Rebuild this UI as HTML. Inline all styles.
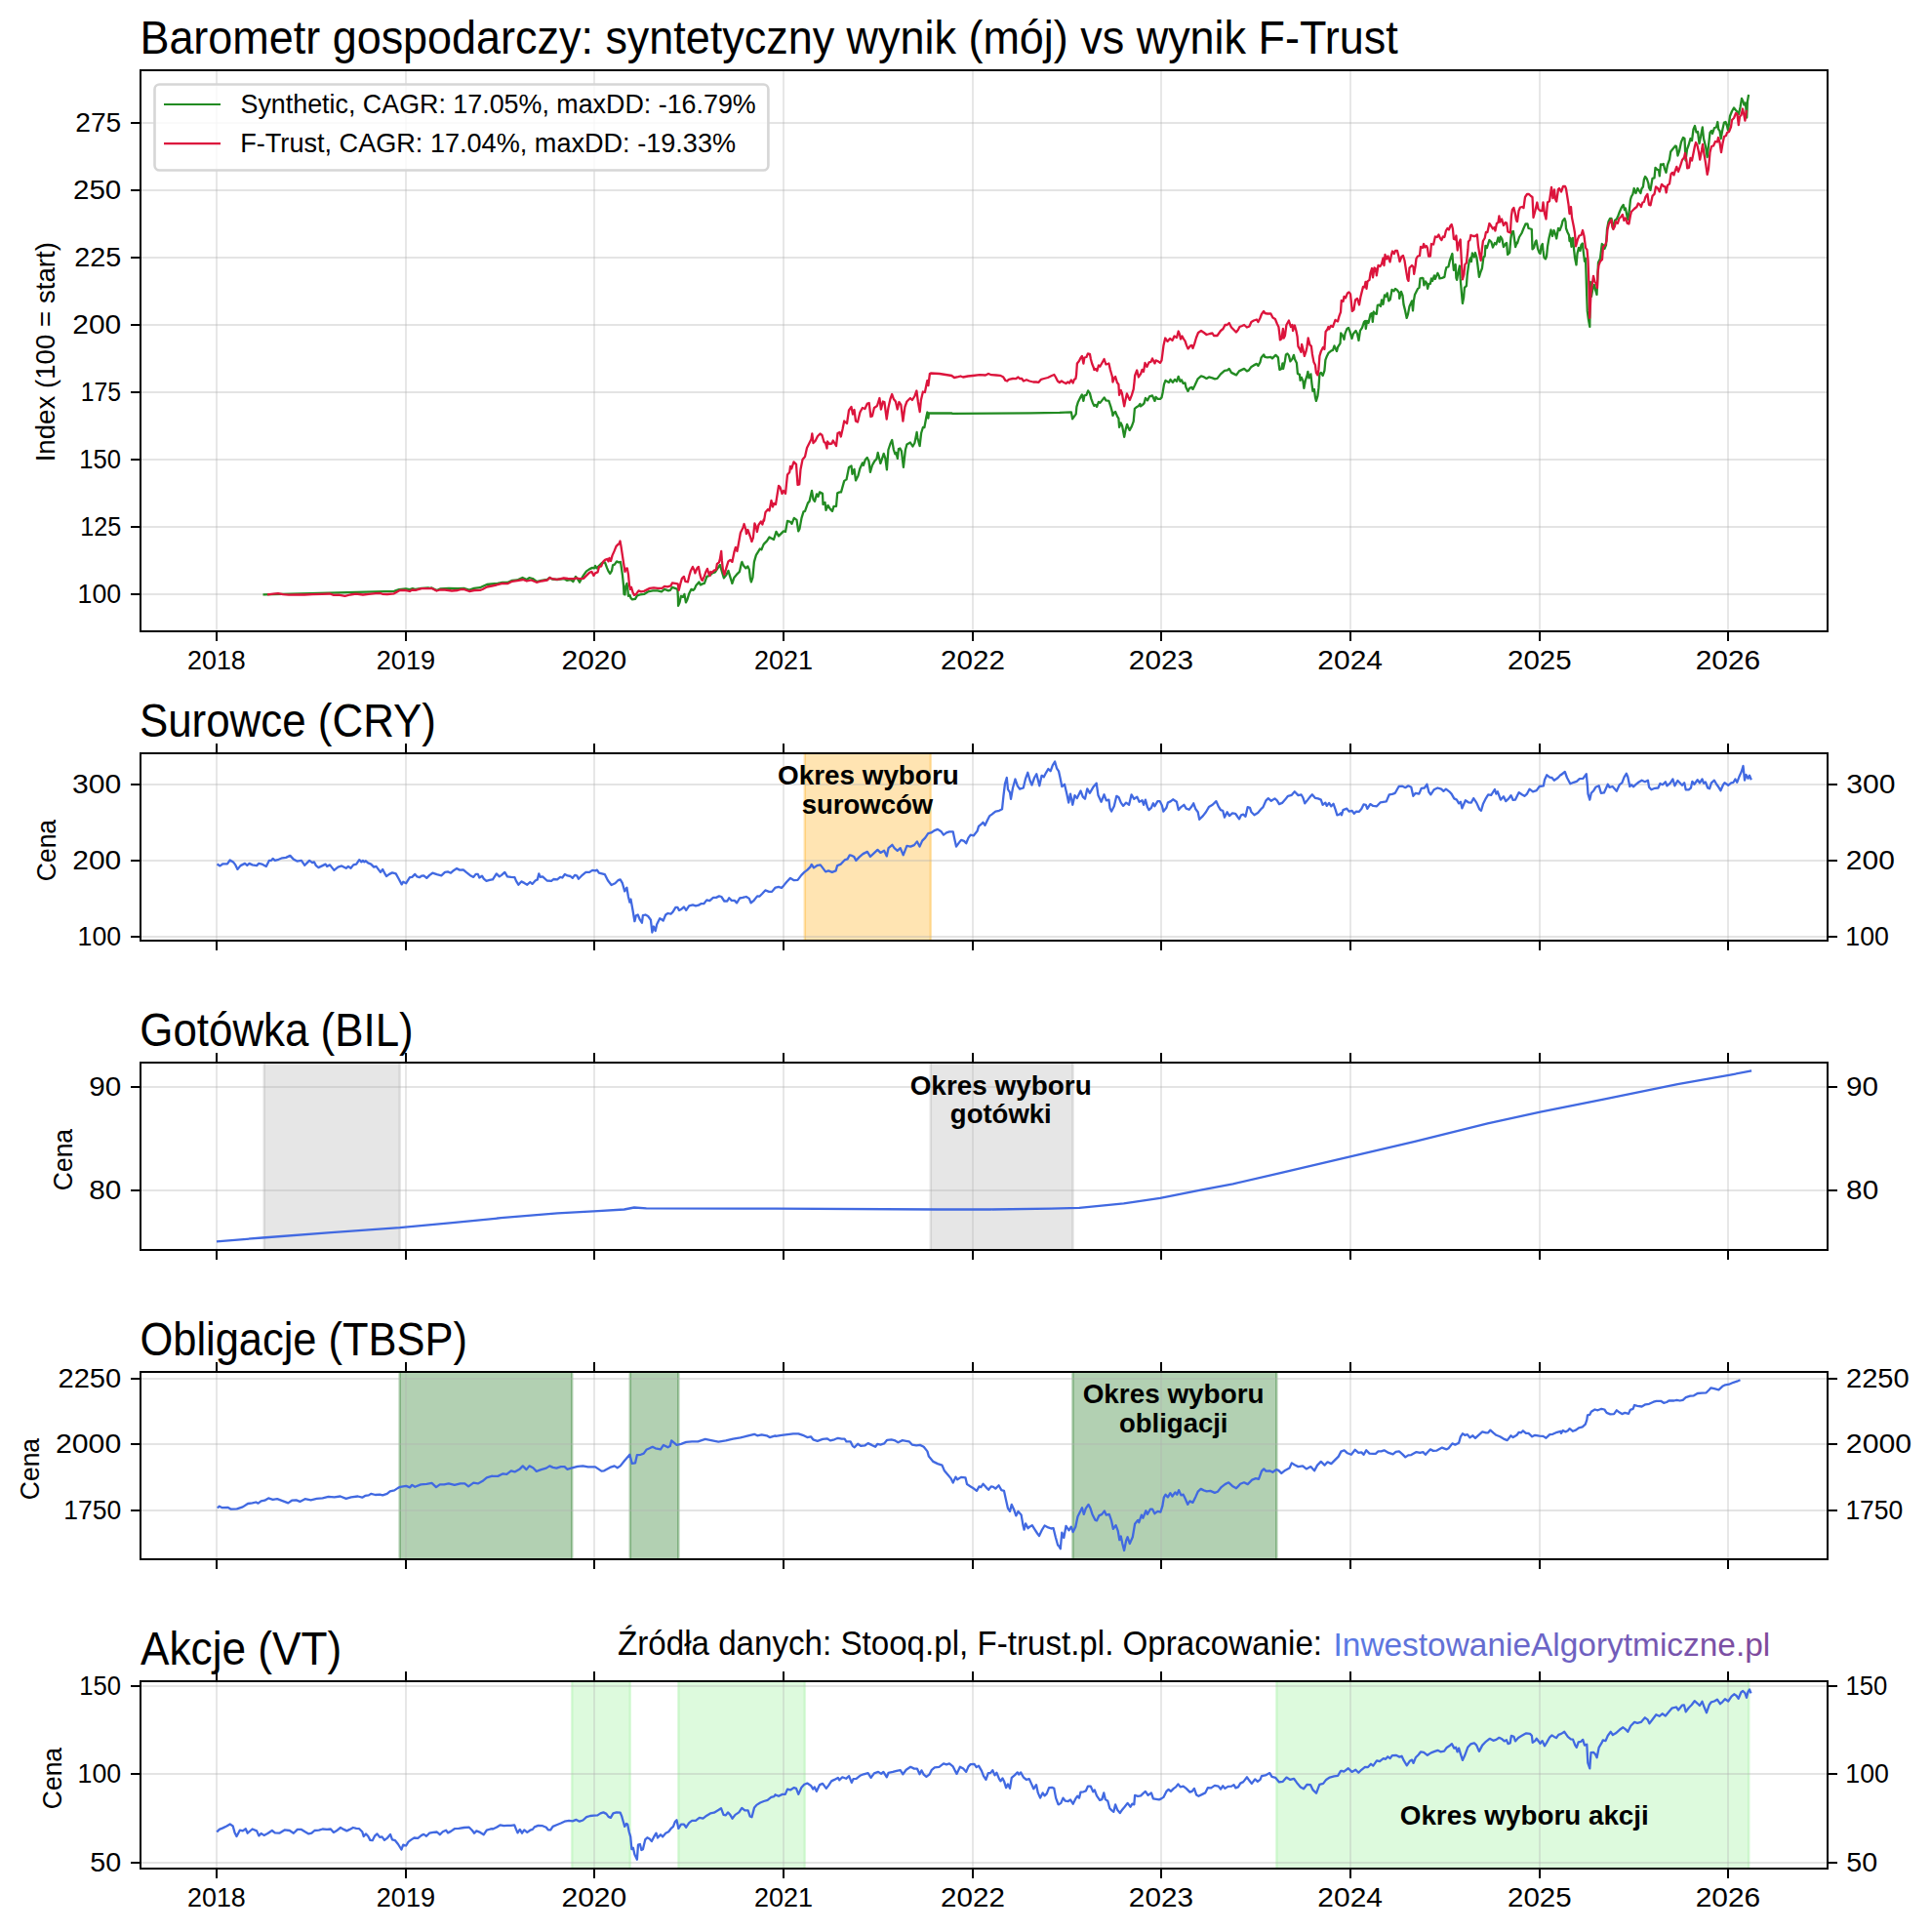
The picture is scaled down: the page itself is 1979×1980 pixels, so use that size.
<!DOCTYPE html>
<html lang="pl"><head><meta charset="utf-8"><title>Barometr gospodarczy</title>
<style>html,body{margin:0;padding:0;background:#fff}body{width:1979px;height:1980px;overflow:hidden}svg{display:block}text{font-family:"Liberation Sans", Arial, Helvetica, sans-serif}</style></head><body>
<svg width="1979" height="1980" viewBox="0 0 1979 1980">
<defs><linearGradient id="lg" x1="0" y1="0" x2="1" y2="0"><stop offset="0" stop-color="#587be6"/><stop offset="0.5" stop-color="#6c64c6"/><stop offset="1" stop-color="#80499a"/></linearGradient></defs>
<rect width="1979" height="1980" fill="#fff"/>
<clipPath id="c0"><rect x="144.0" y="72.0" width="1729.0" height="575.0"/></clipPath>
<path d="M222 72.0V647.0M416 72.0V647.0M609 72.0V647.0M803 72.0V647.0M997 72.0V647.0M1190 72.0V647.0M1384 72.0V647.0M1578 72.0V647.0M1771 72.0V647.0" stroke="#b0b0b0" stroke-opacity="0.3" stroke-width="2" fill="none"/>
<path d="M144.0 609H1873.0M144.0 540H1873.0M144.0 471H1873.0M144.0 402H1873.0M144.0 333H1873.0M144.0 264H1873.0M144.0 195H1873.0M144.0 126H1873.0" stroke="#b0b0b0" stroke-opacity="0.34" stroke-width="2" fill="none"/>
<polyline clip-path="url(#c0)" points="269.5,609.3 403.9,605.8 408.9,604.2 415.9,603.3 419.9,604.2 422.9,603.2 425.9,604.0 431.9,602.8 438.9,602.4 440.0,602.8 442.5,602.5 447.5,605.0 451.0,603.5 460.0,603.0 469.0,603.2 476.0,603.0 481.0,604.5 486.0,602.8 492.0,602.2 494.5,601.0 499.0,599.0 504.0,598.5 510.0,598.0 515.0,597.0 520.0,597.0 525.0,594.8 530.0,594.5 535.5,592.0 539.9,594.0 542.4,592.2 545.9,593.0 549.9,596.0 554.9,594.8 560.9,594.0 563.4,592.0 565.9,593.5 570.9,594.0 577.9,593.0 580.9,594.8 584.9,594.0 587.4,596.0 589.4,592.0 590.0,590.9 592.0,593.4 594.0,596.7 596.0,592.9 598.5,588.9 601.0,585.4 604.0,583.4 607.0,581.9 609.0,582.4 610.0,579.9 611.5,582.4 614.0,579.9 617.0,576.9 620.0,576.4 622.0,581.9 623.5,585.4 625.2,587.9 627.0,584.9 628.0,579.4 630.0,578.4 632.0,575.4 634.0,576.4 636.0,575.9 637.0,582.9 638.0,589.9 639.0,599.9 639.5,608.9 640.5,609.4 641.0,601.9 642.5,597.9 643.5,605.9 644.0,610.9 645.5,609.9 646.5,612.9 648.0,614.4 651.0,613.9 653.0,610.4 656.0,609.4 660.0,608.9 664.0,606.4 669.0,605.4 674.0,605.4 678.0,606.4 681.0,603.9 685.0,605.4 686.9,604.9 688.9,601.9 691.9,602.9 694.4,603.9 694.9,612.9 695.1,620.9 696.4,617.9 697.9,610.9 699.9,611.9 701.4,608.9 702.9,617.4 704.4,614.4 706.4,607.9 708.4,603.9 710.4,604.9 711.9,603.4 713.4,599.9 716.4,596.4 717.9,599.4 719.9,598.4 721.9,597.9 724.4,590.9 727.4,589.9 729.9,587.4 732.9,586.4 735.9,581.9 737.9,578.9 739.9,585.9 741.9,592.4 743.9,589.9 746.4,584.9 747.9,589.9 750.4,597.9 752.4,591.9 754.9,588.9 757.9,585.9 759.9,576.9 760.4,575.9 761.9,579.4 764.4,582.4 766.4,580.4 767.9,583.9 768.9,592.9 769.9,596.4 771.4,591.9 772.9,575.9 774.9,568.9 777.4,564.9 778.9,562.4 780.4,563.4 782.4,558.4 783.0,557.4 786.0,554.4 788.5,550.4 793.0,552.9 795.5,544.9 798.0,549.4 803.0,544.4 805.0,544.9 807.0,533.9 810.0,534.9 811.5,536.9 813.8,530.9 816.5,532.9 818.2,544.4 819.5,541.9 821.5,530.9 823.5,524.4 825.0,523.9 828.0,515.4 829.5,513.9 832.0,502.9 833.5,511.9 835.0,513.9 837.0,506.4 838.5,508.9 840.0,504.4 843.0,505.9 843.5,516.9 845.5,514.9 846.5,522.9 848.5,517.9 851.0,521.9 853.0,523.9 854.5,518.9 857.0,518.9 858.2,505.4 860.5,504.4 862.0,504.4 865.2,492.9 867.5,491.4 870.0,478.9 872.5,477.4 873.5,485.9 875.5,480.9 877.0,492.4 879.5,487.4 881.4,479.9 883.9,474.4 884.9,476.9 886.9,470.9 888.7,468.9 890.4,472.4 891.9,483.9 893.9,476.9 896.4,472.4 898.4,470.4 899.7,463.9 902.4,474.9 904.4,468.9 905.7,464.9 907.4,469.9 908.9,481.4 910.4,461.0 912.4,455.0 914.2,451.0 915.9,461.0 917.4,465.4 918.4,463.9 919.9,469.9 920.9,460.0 922.4,459.5 923.9,462.4 925.9,478.9 927.9,461.0 929.4,455.5 932.9,453.5 935.4,457.5 937.4,454.0 939.6,443.0 940.4,449.0 942.6,457.0 944.1,444.0 945.9,438.0 947.4,438.0 949.4,427.0 950.4,422.5 951.4,428.5 951.9,423.5 975.4,423.5 976.0,423.9 1016.0,423.7 1056.0,423.4 1085.9,422.9 1097.9,422.4 1099.1,429.4 1100.9,426.9 1102.7,424.4 1103.4,416.9 1104.9,411.9 1106.9,407.9 1108.9,404.4 1110.4,410.9 1111.4,405.4 1113.4,404.9 1115.1,400.4 1116.9,402.9 1118.4,408.9 1119.9,412.9 1121.4,415.9 1122.9,414.9 1124.1,416.9 1125.9,411.9 1127.4,412.9 1129.4,410.4 1131.7,407.4 1133.4,410.4 1136.4,410.9 1138.4,416.9 1139.9,422.4 1140.4,425.9 1141.9,422.9 1143.1,421.9 1144.9,426.4 1146.4,428.9 1147.1,437.9 1148.7,433.4 1150.1,436.4 1151.1,441.9 1152.2,447.9 1153.7,439.9 1155.1,434.9 1156.4,438.4 1157.7,440.9 1159.9,436.9 1161.7,431.9 1162.9,418.9 1165.2,416.9 1166.9,415.9 1168.4,413.9 1169.0,416.4 1171.0,414.9 1172.5,413.4 1174.0,407.9 1176.0,410.4 1178.0,406.4 1181.0,405.4 1183.5,410.9 1184.5,406.9 1186.5,408.9 1189.0,408.9 1190.5,407.4 1191.7,401.9 1193.0,393.9 1194.5,389.9 1198.0,391.9 1199.5,388.9 1202.0,391.9 1204.0,388.9 1206.0,390.9 1207.7,385.9 1209.5,390.9 1211.0,389.4 1212.5,392.9 1214.5,392.4 1215.5,396.9 1217.5,400.9 1219.0,397.9 1221.5,396.9 1222.5,398.9 1224.5,394.9 1227.5,388.4 1231.0,385.4 1234.0,386.4 1236.5,387.9 1239.0,386.4 1242.5,387.4 1245.0,388.4 1247.5,387.9 1251.0,383.4 1255.0,379.9 1258.0,379.4 1259.7,377.9 1262.0,381.9 1265.0,383.4 1267.1,384.4 1269.9,380.4 1272.9,378.9 1275.1,377.9 1277.9,380.4 1279.9,379.4 1282.4,375.9 1284.9,374.4 1287.9,372.9 1289.4,374.9 1291.4,371.4 1292.6,366.4 1295.1,363.4 1296.4,365.9 1298.9,366.4 1302.4,365.9 1303.9,367.4 1305.4,365.9 1307.4,363.9 1309.9,366.4 1310.7,373.9 1311.4,378.9 1313.4,377.9 1314.4,372.4 1315.1,377.9 1316.9,369.9 1317.9,363.4 1319.4,362.4 1320.9,364.4 1322.4,370.4 1324.4,367.9 1325.9,363.9 1326.9,367.9 1328.9,371.9 1329.9,382.9 1331.9,383.9 1332.6,389.9 1333.9,386.9 1335.4,390.4 1336.4,397.9 1337.9,389.9 1339.4,385.4 1340.4,380.9 1341.4,387.4 1343.4,383.4 1344.4,392.9 1345.4,400.9 1346.9,398.9 1347.9,406.9 1348.9,410.9 1350.4,405.9 1351.4,397.9 1352.4,382.9 1353.9,381.9 1355.7,384.9 1357.4,379.9 1358.4,368.9 1359.9,364.9 1361.4,361.9 1362.0,361.4 1364.5,359.4 1366.0,358.9 1367.5,354.4 1370.0,359.9 1371.0,355.9 1373.5,351.9 1374.2,341.4 1376.0,343.9 1377.5,347.9 1378.5,341.9 1380.5,336.9 1382.0,335.9 1383.5,339.9 1385.5,346.9 1387.0,341.9 1389.5,338.9 1391.0,341.9 1392.5,348.9 1394.0,338.9 1396.0,335.9 1398.0,329.9 1399.2,328.9 1399.8,336.9 1401.0,328.9 1402.5,330.9 1404.5,321.9 1406.0,320.9 1406.8,329.9 1407.8,319.4 1409.5,321.4 1410.8,321.9 1411.8,312.9 1413.5,312.4 1415.0,313.9 1416.0,307.4 1417.5,311.9 1419.0,302.4 1420.5,303.9 1421.7,300.4 1423.2,308.4 1424.8,306.9 1426.5,296.9 1428.5,298.4 1430.0,295.9 1432.0,297.4 1434.0,300.4 1434.2,305.9 1436.0,298.9 1437.5,302.9 1438.5,311.9 1440.0,317.9 1441.7,325.9 1443.0,321.9 1444.5,313.9 1447.0,308.4 1448.0,318.4 1448.8,308.9 1450.0,301.9 1451.5,298.9 1453.0,295.9 1454.5,294.9 1455.5,285.4 1457.5,284.9 1458.5,285.4 1459.4,292.4 1460.9,288.4 1462.1,289.9 1463.1,295.9 1464.4,290.9 1465.9,290.9 1466.9,285.4 1468.1,287.9 1469.9,282.4 1470.9,285.9 1473.4,279.9 1474.9,282.9 1475.4,285.4 1477.9,284.9 1480.4,283.9 1481.4,277.9 1482.4,274.0 1484.4,273.5 1485.9,267.0 1488.4,260.0 1488.9,267.0 1489.9,276.9 1491.7,271.0 1492.4,284.9 1493.1,286.9 1494.4,279.4 1495.9,272.5 1496.7,285.9 1497.9,299.9 1498.9,310.9 1500.1,304.9 1500.9,294.9 1502.9,292.9 1503.7,281.9 1504.9,273.0 1505.9,267.0 1507.4,264.0 1507.9,268.0 1508.9,259.5 1510.9,263.5 1511.9,259.0 1513.4,264.0 1514.4,271.5 1515.9,283.9 1517.4,278.9 1518.9,275.0 1520.4,263.5 1521.7,262.5 1522.4,252.0 1523.9,254.0 1526.4,246.0 1528.4,248.0 1529.9,253.5 1531.9,249.0 1533.4,250.5 1535.4,243.5 1536.7,248.0 1537.9,242.5 1539.4,245.0 1540.9,253.0 1542.9,250.0 1544.1,249.0 1545.1,261.0 1547.1,259.0 1548.4,244.0 1549.4,237.5 1550.9,237.0 1551.9,244.0 1553.1,253.0 1554.7,248.5 1555.0,249.5 1557.0,243.0 1559.5,239.0 1561.5,234.0 1563.5,229.5 1565.5,229.5 1566.5,234.0 1568.5,234.5 1569.8,235.0 1570.5,255.4 1572.0,253.9 1573.5,248.0 1574.5,246.5 1576.0,254.9 1577.5,258.9 1578.5,259.9 1579.5,252.4 1580.8,250.0 1581.5,256.9 1582.5,263.9 1584.0,265.4 1585.0,262.9 1586.0,252.9 1587.5,244.0 1589.5,235.5 1591.0,242.0 1592.5,236.0 1594.0,240.0 1595.2,244.5 1597.0,234.0 1598.5,236.0 1600.5,231.0 1601.5,226.5 1603.5,224.0 1604.5,227.0 1605.0,234.0 1606.5,238.0 1608.0,241.0 1608.5,247.0 1609.5,244.0 1610.5,252.9 1612.0,244.0 1613.0,254.9 1614.0,263.9 1615.5,271.4 1616.5,259.9 1618.0,253.9 1619.5,256.9 1620.5,251.0 1621.8,249.5 1623.0,259.9 1624.0,267.9 1625.0,264.9 1625.5,279.9 1626.2,302.9 1626.8,318.9 1628.0,327.9 1629.3,334.9 1629.8,288.9 1631.0,303.9 1632.5,294.9 1633.8,291.9 1635.0,296.9 1636.5,301.9 1637.5,279.9 1638.0,268.9 1640.0,264.9 1641.2,254.9 1641.8,250.0 1643.5,251.5 1644.5,254.9 1646.0,251.0 1647.0,235.0 1648.5,227.0 1650.0,224.0 1651.5,224.0 1652.9,234.0 1653.9,231.0 1654.9,226.0 1656.9,224.5 1658.4,221.0 1659.9,217.0 1661.9,212.5 1663.7,210.0 1664.9,215.0 1665.9,213.5 1667.4,221.0 1668.4,225.0 1669.9,215.0 1670.9,205.0 1671.9,201.5 1673.4,199.0 1674.7,193.0 1676.4,198.0 1678.4,193.0 1679.9,195.5 1681.4,198.0 1682.4,193.5 1683.9,191.5 1684.9,184.0 1686.1,181.0 1687.9,183.5 1689.4,188.0 1690.0,192.4 1691.5,194.9 1693.5,182.9 1695.5,182.4 1696.5,171.9 1698.5,173.9 1700.0,174.4 1700.8,180.4 1702.0,168.4 1703.5,168.9 1704.8,167.9 1706.0,172.9 1707.5,176.9 1709.0,168.9 1711.0,163.5 1712.2,155.5 1714.5,152.5 1717.0,149.5 1718.0,150.0 1719.5,159.5 1721.0,155.0 1723.0,145.5 1725.0,141.0 1726.5,142.0 1727.5,164.5 1729.0,153.0 1730.5,149.0 1732.5,142.0 1734.0,144.0 1735.5,132.5 1737.0,129.0 1738.5,135.5 1740.0,135.0 1741.5,147.0 1743.0,140.0 1744.8,130.5 1746.0,142.0 1748.0,150.0 1749.7,161.0 1751.0,149.0 1752.5,136.0 1754.0,134.0 1755.0,137.0 1757.0,131.0 1759.0,130.5 1760.3,125.0 1761.2,132.5 1762.5,134.0 1763.7,142.0 1765.5,132.0 1767.0,125.5 1768.5,125.0 1770.0,129.0 1771.0,133.5 1773.0,119.0 1775.0,114.0 1777.0,110.5 1779.0,113.0 1781.0,115.0 1782.0,117.0 1783.5,110.0 1785.0,101.0 1786.5,104.0 1787.4,107.5 1788.9,105.5 1790.2,120.5 1790.9,104.0 1792.1,97.0" fill="none" stroke="#228b22" stroke-width="2.3" stroke-linejoin="round" stroke-linecap="butt"/>
<polyline clip-path="url(#c0)" points="274.0,609.3 280.0,608.7 285.0,608.2 290.0,609.2 296.0,609.7 303.0,609.3 312.0,609.5 320.0,609.2 330.0,608.8 338.0,608.5 342.0,609.8 347.0,609.7 353.5,610.8 358.9,609.5 364.9,608.7 371.9,609.5 377.9,608.8 384.9,608.2 389.9,608.0 391.9,608.8 396.9,609.0 403.9,608.3 407.9,606.0 409.9,605.0 414.9,604.8 419.9,606.0 422.4,604.5 425.9,604.8 431.9,603.2 437.9,603.2 440.0,603.2 442.5,603.0 447.5,605.5 451.0,604.5 456.0,604.5 463.0,605.5 469.0,605.0 473.0,604.0 476.0,604.2 481.0,606.0 486.0,605.0 492.0,604.8 494.5,604.0 499.0,601.5 504.0,600.5 510.0,599.2 515.0,597.8 520.0,598.2 525.0,595.8 530.0,595.2 536.0,594.0 539.9,595.5 544.4,594.5 549.9,596.8 554.9,595.5 560.9,594.5 563.4,592.0 565.9,593.2 570.9,593.8 577.9,592.5 581.9,593.0 586.9,593.2 589.4,593.0 590.0,592.4 594.0,593.1 598.0,592.9 601.0,589.9 604.0,586.9 606.5,585.9 608.5,589.9 610.0,587.4 612.5,586.4 614.0,580.9 616.2,580.4 618.0,575.9 620.0,573.9 622.5,572.9 623.5,575.4 624.5,571.9 626.0,574.9 627.5,569.4 629.5,564.9 631.5,559.9 633.5,557.9 634.5,557.4 635.5,554.5 636.5,559.9 638.0,569.9 639.5,579.9 640.5,585.9 641.5,582.9 642.8,582.4 644.0,588.9 645.0,599.9 646.0,603.9 647.0,601.9 648.5,606.9 650.0,609.9 652.0,608.9 654.5,605.4 657.0,606.4 660.0,605.9 664.0,603.9 666.0,602.9 670.0,602.4 674.0,602.9 678.5,602.9 681.0,600.9 684.0,601.4 687.4,600.4 688.9,597.4 691.9,597.9 694.7,598.4 695.7,604.9 697.4,597.9 698.9,592.9 700.9,590.9 702.4,595.9 704.9,596.4 706.4,589.9 707.9,584.9 709.9,580.9 711.4,583.9 712.4,587.4 714.4,582.4 715.9,580.9 717.4,588.9 718.9,593.9 719.9,594.9 721.9,590.4 723.4,585.9 724.9,582.9 726.4,587.9 727.4,589.9 728.4,585.9 729.9,586.9 731.4,584.9 733.9,583.9 734.9,577.9 736.9,576.4 737.9,572.9 739.2,564.9 739.9,574.9 740.9,583.9 742.4,588.9 744.4,581.9 746.4,575.4 748.4,573.9 750.4,575.9 752.4,565.9 753.9,560.9 755.4,564.9 756.4,559.9 758.9,546.0 761.4,541.0 762.6,537.0 764.4,543.0 764.9,547.0 766.4,543.0 768.9,550.0 770.4,555.0 771.9,551.0 773.4,536.5 774.9,540.0 775.9,545.0 777.4,538.0 779.9,534.5 781.4,537.5 782.7,532.5 783.0,533.9 784.5,524.9 787.0,521.9 788.5,523.4 790.5,512.9 792.0,519.4 793.0,515.9 795.0,516.9 798.0,497.9 799.5,499.4 801.5,505.9 803.0,502.9 805.0,505.9 807.0,486.4 809.2,483.9 810.0,477.9 811.2,480.4 813.5,473.4 816.0,475.9 817.5,496.9 819.2,496.4 820.5,480.9 822.5,470.9 825.0,467.9 827.0,459.0 829.5,454.0 831.5,450.0 832.3,444.5 833.5,454.0 835.5,452.0 838.0,447.0 840.5,444.5 842.5,446.0 844.5,453.0 846.0,454.0 847.5,459.5 848.0,452.5 850.0,455.0 852.5,454.5 853.8,451.5 857.0,457.0 858.5,444.0 860.5,443.0 861.8,447.5 863.5,440.0 865.2,431.5 868.0,434.0 870.0,420.5 872.5,417.0 874.0,424.5 875.5,420.0 877.0,431.5 879.0,432.5 881.4,422.5 883.9,418.0 886.4,419.0 888.9,413.5 890.7,413.0 892.4,427.0 893.9,426.5 895.9,418.0 898.9,416.0 901.4,408.0 902.9,419.5 904.9,411.5 906.4,412.0 908.7,429.5 910.4,418.0 912.4,409.0 914.2,404.0 915.9,409.0 917.9,411.5 919.7,419.5 921.4,412.0 923.4,415.0 925.4,431.5 927.4,417.0 929.4,411.5 932.9,408.0 934.9,410.0 937.4,406.0 939.4,400.5 940.9,412.0 942.7,422.0 943.9,410.0 945.9,401.5 947.9,402.0 949.7,393.0 950.4,390.0 951.4,395.0 952.9,383.0 953.9,382.5 962.9,383.0 975.4,385.0 976.0,385.5 978.0,387.0 982.0,386.2 984.5,385.5 987.0,386.5 992.0,385.5 997.0,385.0 1004.0,384.2 1010.0,384.5 1013.0,383.0 1016.0,384.2 1021.0,384.5 1025.0,384.8 1028.0,386.2 1030.5,390.0 1032.0,390.5 1034.0,388.8 1038.0,388.0 1041.0,388.2 1043.5,386.5 1045.0,388.0 1047.0,387.8 1049.0,390.5 1052.0,389.2 1055.0,390.5 1059.0,391.5 1062.0,391.5 1064.5,391.8 1067.0,388.8 1070.0,388.0 1073.9,387.0 1077.9,385.0 1080.4,384.0 1081.9,386.5 1083.9,390.5 1085.9,392.0 1087.9,390.5 1089.9,391.8 1092.4,393.0 1094.4,391.5 1095.9,392.5 1097.9,389.5 1099.7,392.5 1100.9,389.0 1102.4,388.0 1103.1,384.0 1103.9,372.5 1105.9,370.0 1107.4,367.0 1108.9,365.0 1110.4,372.5 1111.4,366.5 1113.4,366.0 1114.9,362.5 1116.9,362.8 1117.9,368.0 1119.1,372.5 1120.9,377.0 1121.4,379.0 1122.9,378.0 1124.4,380.0 1125.9,374.5 1127.4,375.5 1129.4,372.0 1131.6,368.0 1133.4,373.5 1136.4,372.5 1137.9,379.0 1139.9,386.0 1140.4,391.5 1141.9,387.5 1143.1,386.0 1144.9,392.0 1146.4,394.0 1147.1,404.9 1148.7,399.9 1149.9,402.9 1151.1,410.4 1152.2,416.4 1153.4,409.9 1154.9,403.4 1156.4,406.9 1157.9,409.9 1159.9,404.9 1161.7,398.9 1162.7,390.0 1163.1,385.0 1165.2,379.5 1166.9,386.5 1168.4,384.0 1169.0,383.4 1170.5,378.9 1172.0,380.9 1173.5,371.9 1175.5,375.9 1177.5,371.4 1179.5,370.9 1181.0,367.4 1183.5,372.4 1184.5,369.4 1187.0,370.4 1189.0,371.9 1190.5,369.4 1191.5,361.9 1192.5,353.9 1194.2,346.5 1196.5,349.9 1199.0,346.9 1201.5,348.9 1203.5,344.5 1206.0,346.0 1207.7,339.5 1209.0,343.0 1210.0,347.4 1211.5,344.5 1213.0,347.4 1214.5,349.4 1216.0,353.9 1217.5,357.4 1220.0,354.4 1221.5,353.9 1222.5,356.9 1224.0,352.9 1226.0,346.0 1228.0,341.0 1231.0,339.0 1234.0,341.0 1236.5,343.0 1240.0,342.0 1242.5,341.5 1244.0,344.0 1247.5,344.0 1251.0,339.0 1253.5,337.0 1255.5,333.0 1257.5,333.0 1259.7,331.0 1262.0,335.5 1265.0,338.5 1266.9,340.5 1268.9,338.0 1270.4,335.0 1272.9,334.0 1275.1,333.0 1277.9,335.5 1280.4,334.5 1282.4,330.0 1284.9,328.5 1287.9,327.5 1289.4,330.0 1291.4,326.0 1292.9,322.0 1295.1,319.0 1296.4,321.0 1298.9,321.5 1302.4,321.5 1304.4,325.5 1306.9,327.0 1308.9,332.0 1310.4,335.0 1311.4,343.0 1311.9,348.4 1313.4,347.4 1314.9,337.0 1315.7,346.5 1316.9,344.0 1318.4,333.0 1320.9,328.5 1322.9,335.0 1324.4,333.0 1325.1,339.0 1326.9,333.5 1328.4,339.0 1329.6,345.0 1330.4,354.9 1332.1,357.9 1333.4,360.9 1334.1,352.9 1335.4,357.9 1336.9,364.9 1338.4,360.4 1339.4,355.9 1340.7,346.5 1342.4,353.4 1343.9,354.9 1344.9,362.9 1346.4,370.9 1347.9,373.9 1348.9,381.9 1350.4,384.4 1351.4,378.9 1352.4,364.9 1353.9,359.9 1355.9,355.9 1357.4,357.9 1358.6,340.0 1360.4,337.5 1361.4,335.0 1362.0,337.4 1364.0,333.9 1366.0,334.9 1368.5,327.9 1371.0,329.4 1372.5,323.9 1374.0,319.9 1374.8,307.9 1376.5,308.9 1377.5,303.9 1379.0,305.4 1381.0,300.4 1382.5,299.4 1384.0,301.4 1385.8,318.9 1387.5,317.4 1389.0,307.4 1391.0,305.9 1393.0,312.4 1394.5,303.9 1397.0,293.9 1398.5,294.4 1399.5,288.9 1400.5,295.9 1401.5,288.4 1403.5,286.9 1404.5,279.9 1406.0,275.0 1407.0,284.4 1408.5,274.5 1410.0,275.5 1410.8,282.4 1412.5,272.0 1414.5,273.0 1416.0,270.5 1417.5,264.5 1418.5,272.0 1419.5,261.0 1421.0,265.5 1422.5,262.5 1424.5,268.5 1426.0,261.0 1427.0,257.5 1428.8,260.0 1430.0,257.0 1432.0,257.0 1433.5,263.0 1434.5,268.0 1436.5,263.0 1438.0,262.0 1439.5,267.0 1441.0,276.9 1442.5,285.9 1443.5,287.9 1444.5,274.5 1447.0,272.0 1448.5,273.5 1449.2,280.9 1450.5,273.0 1451.5,265.0 1453.0,262.5 1455.0,262.0 1456.0,253.0 1458.0,254.0 1459.1,250.0 1460.4,253.5 1461.9,252.0 1462.9,254.0 1464.1,262.5 1465.9,262.5 1466.9,250.0 1469.1,250.5 1470.9,242.5 1472.9,243.0 1474.4,240.5 1475.9,244.0 1477.4,246.0 1478.9,242.5 1480.4,243.0 1481.9,236.5 1483.4,234.0 1484.9,235.5 1486.4,231.5 1487.7,230.0 1488.9,234.5 1489.9,245.0 1491.4,245.5 1492.4,241.5 1493.7,256.5 1495.4,248.5 1496.7,245.5 1497.7,265.0 1498.9,286.4 1500.4,280.9 1501.4,271.0 1502.9,269.5 1504.4,256.0 1504.9,247.5 1506.4,246.0 1507.4,241.0 1509.9,242.0 1511.9,242.0 1513.9,240.5 1514.9,251.5 1516.4,261.0 1517.7,267.0 1518.9,255.0 1519.9,247.0 1521.7,244.0 1522.9,238.0 1524.4,238.0 1526.4,229.0 1528.4,232.0 1529.9,234.5 1531.4,233.0 1532.4,236.5 1533.9,229.0 1535.4,228.0 1536.4,221.5 1537.4,227.5 1539.1,224.5 1540.9,231.0 1542.9,228.0 1544.1,228.5 1545.4,237.5 1547.9,238.5 1548.9,221.5 1549.9,215.0 1551.4,213.0 1552.9,219.0 1553.9,225.0 1554.7,227.0 1555.0,227.0 1556.5,216.0 1558.0,212.5 1560.0,212.0 1561.5,213.0 1563.0,202.0 1565.0,199.0 1567.0,199.0 1569.0,201.0 1570.5,202.0 1571.5,223.0 1573.5,215.5 1575.3,207.5 1576.5,214.0 1578.5,216.0 1580.5,216.0 1581.5,207.5 1583.0,219.0 1584.5,224.5 1586.0,207.5 1588.0,206.0 1590.0,192.0 1591.5,203.0 1593.0,194.5 1594.0,204.0 1595.2,206.5 1597.0,194.0 1598.0,193.0 1600.0,196.5 1602.0,191.0 1604.0,191.0 1605.0,193.5 1606.5,203.0 1607.5,209.5 1608.5,219.0 1610.0,212.0 1611.0,223.0 1613.0,233.0 1614.0,239.0 1615.0,252.4 1617.0,245.0 1618.5,241.5 1620.5,241.0 1622.0,236.0 1623.5,242.0 1625.0,253.9 1626.5,255.9 1627.5,266.9 1628.2,284.9 1628.8,310.9 1629.2,325.9 1629.8,314.9 1630.5,299.9 1631.5,292.9 1633.0,282.9 1634.5,288.9 1636.0,290.9 1637.0,294.9 1637.5,279.9 1638.5,271.9 1640.0,267.9 1642.0,265.9 1643.0,252.9 1645.0,251.5 1646.5,247.0 1647.5,235.0 1649.0,229.0 1651.5,225.5 1652.4,232.0 1653.4,235.0 1654.9,232.0 1655.9,227.0 1657.9,229.0 1659.4,224.0 1661.4,222.0 1662.9,220.0 1664.4,226.0 1665.9,223.5 1667.9,229.0 1669.4,229.5 1670.9,221.0 1671.9,217.0 1674.9,214.0 1677.4,212.0 1678.9,208.5 1680.9,210.0 1681.9,212.0 1683.4,207.5 1684.9,207.0 1686.4,202.0 1688.4,199.0 1690.0,209.9 1691.5,210.4 1693.5,200.9 1695.5,198.9 1697.0,191.4 1699.0,192.9 1700.8,196.4 1703.0,188.9 1705.0,190.9 1706.5,191.4 1707.7,197.4 1709.0,189.9 1711.0,188.4 1712.5,178.4 1714.0,176.9 1715.5,179.4 1716.5,175.9 1718.3,170.9 1720.0,175.9 1722.0,170.4 1724.0,164.0 1726.0,161.5 1727.0,157.0 1728.5,165.0 1729.2,172.4 1731.0,171.9 1732.5,162.0 1734.0,164.5 1735.5,157.0 1737.0,149.5 1738.0,146.0 1739.5,149.0 1741.0,156.0 1742.2,163.5 1744.0,154.0 1745.0,148.0 1746.5,158.0 1748.0,166.9 1749.7,178.9 1751.0,172.9 1752.5,156.0 1754.0,150.0 1756.0,149.5 1758.0,145.0 1760.0,145.5 1761.0,141.0 1762.5,146.0 1764.0,156.0 1765.5,147.0 1767.0,140.0 1769.0,139.0 1770.0,136.0 1772.0,135.0 1774.0,130.0 1775.0,123.0 1777.0,121.0 1779.0,116.0 1780.5,117.0 1781.8,128.0 1783.0,119.5 1784.5,118.0 1786.0,111.5 1787.4,118.0 1788.4,123.5 1789.7,114.0 1790.4,113.0" fill="none" stroke="#dc143c" stroke-width="2.3" stroke-linejoin="round" stroke-linecap="butt"/>
<path d="M134.0 609H144.0M134.0 540H144.0M134.0 471H144.0M134.0 402H144.0M134.0 333H144.0M134.0 264H144.0M134.0 195H144.0M134.0 126H144.0M222 647.0V657.0M416 647.0V657.0M609 647.0V657.0M803 647.0V657.0M997 647.0V657.0M1190 647.0V657.0M1384 647.0V657.0M1578 647.0V657.0M1771 647.0V657.0" stroke="#000" stroke-width="2" fill="none"/>
<rect x="144.0" y="72.0" width="1729.0" height="575.0" fill="none" stroke="#000" stroke-width="2"/>
<text x="79.56" y="617.9" font-size="27.5" textLength="44.58" lengthAdjust="spacingAndGlyphs">100</text>
<text x="82.18" y="548.9" font-size="27.5" textLength="41.97" lengthAdjust="spacingAndGlyphs">125</text>
<text x="81.35" y="479.9" font-size="27.5" textLength="42.75" lengthAdjust="spacingAndGlyphs">150</text>
<text x="82.81" y="410.9" font-size="27.5" textLength="41.33" lengthAdjust="spacingAndGlyphs">175</text>
<text x="74.29" y="341.9" font-size="27.5" textLength="49.98" lengthAdjust="spacingAndGlyphs">200</text>
<text x="76.35" y="272.9" font-size="27.5" textLength="47.95" lengthAdjust="spacingAndGlyphs">225</text>
<text x="75.02" y="203.9" font-size="27.5" textLength="49.24" lengthAdjust="spacingAndGlyphs">250</text>
<text x="77.28" y="134.9" font-size="27.5" textLength="47.00" lengthAdjust="spacingAndGlyphs">275</text>
<text x="192.00" y="686.2" font-size="27.5" textLength="59.82" lengthAdjust="spacingAndGlyphs">2018</text>
<text x="385.79" y="686.2" font-size="27.5" textLength="60.35" lengthAdjust="spacingAndGlyphs">2019</text>
<text x="575.44" y="686.2" font-size="27.5" textLength="66.78" lengthAdjust="spacingAndGlyphs">2020</text>
<text x="772.99" y="686.2" font-size="27.5" textLength="59.97" lengthAdjust="spacingAndGlyphs">2021</text>
<text x="964.11" y="686.2" font-size="27.5" textLength="65.77" lengthAdjust="spacingAndGlyphs">2022</text>
<text x="1156.86" y="686.2" font-size="27.5" textLength="66.10" lengthAdjust="spacingAndGlyphs">2023</text>
<text x="1350.39" y="686.2" font-size="27.5" textLength="66.58" lengthAdjust="spacingAndGlyphs">2024</text>
<text x="1545.12" y="686.2" font-size="27.5" textLength="65.52" lengthAdjust="spacingAndGlyphs">2025</text>
<text x="1737.65" y="686.2" font-size="27.5" textLength="66.52" lengthAdjust="spacingAndGlyphs">2026</text>
<text x="143.41" y="55.0" font-size="48" textLength="1289.22" lengthAdjust="spacingAndGlyphs">Barometr gospodarczy: syntetyczny wynik (mój) vs wynik F-Trust</text>
<text transform="translate(55.8 360.3) rotate(-90)" x="-113.05" y="0" font-size="28" textLength="225.27" lengthAdjust="spacingAndGlyphs">Index (100 = start)</text>
<rect x="158.5" y="86.55" width="628.9" height="87.9" rx="5" ry="5" fill="#fff" fill-opacity="0.8" stroke="#d6d6d6" stroke-width="2.6"/>
<path d="M168 107H226" stroke="#228b22" stroke-width="2.2"/><path d="M168 147.1H226" stroke="#dc143c" stroke-width="2.2"/>
<text x="246.48" y="116.3" font-size="28" textLength="528.28" lengthAdjust="spacingAndGlyphs">Synthetic, CAGR: 17.05%, maxDD: -16.79%</text>
<text x="246.28" y="156.2" font-size="28" textLength="507.79" lengthAdjust="spacingAndGlyphs">F-Trust, CAGR: 17.04%, maxDD: -19.33%</text>
<clipPath id="c1"><rect x="144.0" y="772.0" width="1729.0" height="192.0"/></clipPath>
<rect clip-path="url(#c1)" x="824.8" y="766.0" width="129.0" height="204.0" fill="#ffa500" fill-opacity="0.3" stroke="#ffa500" stroke-opacity="0.3" stroke-width="2.5"/>
<path d="M222 772.0V964.0M416 772.0V964.0M609 772.0V964.0M803 772.0V964.0M997 772.0V964.0M1190 772.0V964.0M1384 772.0V964.0M1578 772.0V964.0M1771 772.0V964.0" stroke="#b0b0b0" stroke-opacity="0.3" stroke-width="2" fill="none"/>
<path d="M144.0 804H1873.0M144.0 882H1873.0M144.0 960H1873.0" stroke="#b0b0b0" stroke-opacity="0.34" stroke-width="2" fill="none"/>
<polyline clip-path="url(#c1)" points="222.5,885.6 225.5,887.4 228.5,885.3 233.0,885.3 235.7,881.4 239.0,883.4 241.3,886.4 243.5,890.9 246.5,887.1 251.0,884.9 253.3,886.8 255.5,884.9 258.6,886.4 263.1,887.1 265.3,884.9 268.3,885.6 272.8,887.9 275.8,881.9 278.1,881.9 279.6,879.9 281.8,881.9 285.6,880.8 289.3,879.3 293.1,878.9 297.3,876.9 300.6,880.4 304.4,882.6 308.9,881.9 312.3,886.8 314.9,884.1 317.1,881.9 320.1,884.1 321.9,883.4 323.9,887.1 326.4,889.1 330.6,887.1 333.6,885.6 335.1,887.9 338.1,886.4 340.4,889.4 342.4,891.9 346.4,888.6 350.2,887.4 354.7,889.8 356.9,887.9 359.5,889.8 362.2,886.4 365.2,885.6 368.2,881.1 370.4,883.4 371.9,881.9 373.4,883.4 374.9,882.3 377.2,884.4 380.2,885.6 383.2,888.6 385.5,887.9 387.7,890.9 390.0,893.9 392.2,890.9 394.5,895.4 396.0,898.0 399.0,895.9 402.0,894.4 405.7,895.4 408.0,899.5 411.7,906.4 413.2,903.7 416.2,905.2 420.0,899.2 422.3,898.9 425.3,895.9 427.5,898.4 429.8,899.2 432.0,897.7 434.3,897.4 437.3,899.9 440.3,896.9 443.3,894.7 447.8,896.2 452.3,897.4 456.0,893.9 459.0,893.4 462.0,894.7 465.1,891.9 468.1,890.1 471.1,891.6 474.8,891.3 477.8,893.9 481.6,896.9 485.3,898.9 487.6,895.9 489.8,895.9 491.3,899.5 494.0,897.7 495.8,900.7 498.5,902.9 501.8,901.9 504.5,901.4 505.0,901.4 508.8,895.4 511.8,898.4 514.0,896.9 517.3,893.9 520.0,898.4 523.8,898.9 527.5,899.2 529.0,902.9 531.3,906.7 534.3,903.4 537.3,904.9 540.3,906.7 543.3,904.0 545.5,905.9 548.6,902.5 550.8,901.4 552.3,895.4 553.8,898.9 556.1,898.4 560.6,902.5 565.1,902.9 567.3,901.0 571.1,901.4 574.1,898.9 576.3,899.5 578.9,895.9 581.6,897.4 584.6,898.0 586.8,899.9 589.1,896.9 591.4,897.7 592.9,900.7 595.9,897.7 600.4,893.9 604.1,893.9 607.1,891.9 610.1,892.4 611.9,891.6 613.9,894.7 616.9,895.4 619.9,896.2 622.9,902.2 626.6,907.0 630.4,905.2 633.4,902.2 635.7,901.4 637.9,905.2 640.2,913.4 642.4,909.7 643.9,918.7 645.4,924.7 646.5,921.7 648.4,932.2 650.4,944.2 651.9,938.2 653.7,937.5 655.9,942.7 657.9,945.7 658.9,938.2 661.5,937.5 664.2,939.0 666.9,942.7 668.4,955.5 669.9,949.5 671.7,954.0 673.2,947.2 676.2,941.2 677.7,942.0 679.7,943.5 682.2,937.5 684.5,936.0 687.5,936.7 689.7,934.4 692.4,929.9 694.5,929.9 696.0,932.9 698.7,931.4 701.0,929.5 703.2,932.9 706.2,928.4 710.0,927.4 713.0,928.4 716.0,927.7 718.3,926.2 721.3,926.2 724.3,922.4 727.3,923.2 731.0,919.9 734.0,919.9 737.0,918.4 739.3,919.0 742.3,923.5 745.3,923.5 747.2,920.2 749.8,922.9 752.8,922.9 755.1,925.4 758.1,920.5 761.1,919.9 764.8,919.0 767.8,920.9 769.6,925.4 772.3,923.2 776.1,918.4 778.3,918.7 781.3,915.7 784.3,912.4 788.1,913.9 791.1,913.9 794.5,909.7 795.0,909.7 798.0,908.9 801.0,910.0 803.3,907.4 806.3,903.7 810.0,899.9 813.8,902.2 817.5,901.9 821.3,896.9 824.3,893.9 827.3,891.6 830.3,888.6 831.8,885.9 834.0,889.4 837.8,886.8 840.8,886.4 843.1,889.4 846.1,893.4 849.1,892.4 852.8,893.9 856.6,892.4 858.1,887.1 861.8,885.6 865.6,881.4 868.6,880.4 870.8,876.3 873.1,876.9 875.3,878.1 877.3,881.9 880.6,878.4 884.4,875.1 888.9,872.9 891.9,877.8 894.9,875.1 899.4,870.9 902.4,873.9 906.1,871.8 908.8,877.4 910.6,869.1 914.4,865.8 916.6,869.1 919.7,871.8 922.7,869.1 925.7,876.3 929.4,866.9 933.2,867.6 936.9,866.1 939.9,862.4 942.5,867.6 945.2,861.6 948.2,858.6 951.2,854.1 954.2,853.4 957.9,851.1 961.0,849.9 964.7,852.3 967.0,855.6 970.0,853.4 973.0,852.3 976.7,852.3 978.2,859.4 980.0,867.6 982.7,863.9 985.0,860.9 988.0,861.9 990.2,864.3 992.5,858.6 994.7,855.6 997.7,856.4 1001.5,851.8 1003.0,846.9 1006.0,844.3 1007.5,842.8 1009.5,845.8 1012.0,840.6 1014.3,836.1 1016.5,834.6 1020.3,831.6 1024.0,830.8 1027.0,829.3 1028.5,815.1 1030.0,803.0 1031.8,797.0 1033.0,809.0 1035.0,812.1 1036.0,818.8 1038.0,807.5 1040.5,798.5 1042.8,805.3 1045.1,808.7 1048.8,807.5 1051.1,797.8 1053.3,791.8 1055.6,800.0 1057.5,804.5 1060.1,797.0 1062.3,793.3 1065.3,805.3 1067.6,794.8 1069.8,796.3 1072.1,791.8 1074.3,788.0 1076.6,790.3 1078.8,784.3 1081.1,780.5 1083.0,787.3 1085.0,790.3 1086.5,797.0 1088.3,806.0 1091.0,803.8 1093.3,813.6 1095.2,822.6 1097.0,813.6 1099.3,824.8 1101.5,815.1 1103.8,818.1 1107.5,810.5 1109.8,816.6 1112.0,818.8 1114.3,808.3 1116.8,812.8 1120.3,806.8 1123.7,802.7 1125.5,815.1 1128.6,821.8 1131.6,814.3 1133.8,820.3 1136.4,819.6 1137.6,828.6 1139.1,831.6 1141.8,826.3 1144.3,815.8 1146.6,817.3 1148.8,822.6 1151.1,825.9 1154.1,822.6 1157.1,824.8 1159.6,814.3 1162.3,818.8 1165.3,816.6 1167.6,821.8 1170.6,820.3 1172.1,824.8 1173.9,819.6 1175.9,827.1 1177.4,830.1 1179.9,827.8 1181.9,823.3 1183.4,826.3 1186.4,821.1 1188.6,821.1 1190.9,825.6 1192.4,831.6 1195.4,827.8 1196.9,822.6 1199.9,821.1 1202.1,819.3 1205.9,821.8 1207.8,830.1 1210.4,827.1 1213.4,824.8 1215.7,828.6 1218.7,829.8 1220.9,827.1 1223.2,823.3 1225.4,829.3 1227.7,832.3 1229.2,839.8 1232.9,836.1 1235.9,832.3 1238.9,827.1 1242.7,824.8 1246.4,821.1 1248.7,826.3 1251.0,830.1 1253.2,830.8 1255.0,837.6 1257.7,832.3 1260.0,836.1 1263.0,833.4 1266.0,833.8 1268.2,836.8 1270.0,839.4 1272.0,835.3 1274.2,834.6 1276.5,836.8 1278.7,827.1 1281.0,827.8 1282.5,832.3 1285.5,835.3 1289.2,833.1 1292.3,829.3 1294.5,827.1 1297.5,820.3 1299.8,818.1 1302.8,820.8 1306.5,818.4 1308.8,820.3 1311.0,824.1 1314.0,822.9 1317.0,819.6 1320.0,815.8 1323.8,814.8 1326.8,811.3 1330.5,815.1 1333.5,814.3 1335.5,817.8 1337.3,823.3 1340.3,819.6 1342.6,816.6 1344.8,814.3 1347.8,817.8 1350.8,818.4 1353.8,819.6 1355.6,824.8 1358.3,822.6 1359.8,825.9 1362.1,822.9 1364.3,826.3 1366.6,823.8 1368.8,830.1 1370.3,835.3 1372.6,834.6 1374.5,833.1 1375.0,835.3 1376.5,830.1 1380.3,828.6 1382.5,831.6 1385.5,830.8 1387.8,833.8 1390.0,831.6 1392.7,831.9 1395.3,828.9 1397.5,824.4 1399.8,824.8 1401.3,828.9 1404.3,824.1 1407.3,825.9 1411.0,826.3 1414.8,822.3 1417.8,821.8 1420.8,821.4 1423.8,814.3 1426.8,813.9 1429.8,812.8 1433.6,806.0 1437.3,805.7 1440.3,807.2 1443.3,805.3 1446.3,806.8 1448.3,815.8 1450.8,812.8 1454.3,813.6 1456.8,807.8 1459.9,807.5 1462.4,803.8 1464.4,811.8 1466.3,814.3 1469.6,809.3 1473.4,807.5 1477.1,808.7 1479.4,810.8 1481.9,808.7 1485.4,811.3 1487.6,813.6 1490.3,818.4 1492.9,819.6 1495.1,823.3 1496.9,821.8 1498.4,828.3 1501.9,820.3 1504.9,822.3 1507.9,822.6 1510.2,818.1 1513.2,822.6 1516.2,829.3 1518.0,830.8 1519.9,824.1 1522.9,818.1 1525.2,814.3 1528.2,814.8 1531.9,809.0 1533.4,813.6 1534.9,811.3 1537.9,819.6 1541.0,816.3 1543.2,821.1 1546.2,818.4 1548.5,815.1 1550.7,819.9 1553.0,819.6 1556.7,812.1 1559.7,814.3 1562.4,815.8 1565.0,813.6 1567.5,808.7 1571.0,811.3 1574.7,810.2 1577.7,806.0 1581.9,805.3 1583.0,799.3 1585.3,794.3 1588.3,796.7 1590.5,797.0 1592.8,799.7 1596.5,797.3 1599.5,794.0 1600.0,794.0 1603.8,791.0 1606.0,797.0 1609.3,803.3 1612.8,801.8 1615.8,800.8 1618.8,798.2 1622.5,797.8 1625.8,793.3 1627.0,806.0 1627.5,813.6 1629.3,819.6 1630.8,812.8 1633.3,810.2 1635.3,806.8 1638.7,805.3 1640.8,812.8 1643.9,812.4 1647.8,803.8 1649.6,806.8 1652.6,806.0 1656.8,810.8 1659.8,804.2 1662.3,802.3 1664.6,796.3 1666.8,792.8 1668.3,796.3 1670.3,806.0 1672.1,804.2 1673.9,806.3 1676.6,803.8 1679.6,801.5 1682.6,799.7 1685.9,801.2 1688.9,799.7 1690.1,806.8 1692.4,809.3 1696.1,807.8 1699.4,807.5 1701.4,803.0 1703.9,804.2 1706.9,801.2 1708.4,805.3 1711.9,802.3 1714.4,798.5 1716.4,805.3 1719.4,800.0 1721.6,802.3 1723.9,804.8 1726.2,802.3 1727.7,809.3 1730.7,809.3 1732.9,807.5 1734.4,800.8 1736.4,803.8 1739.7,799.3 1741.9,802.3 1744.5,798.5 1746.0,802.7 1747.9,801.5 1750.2,807.5 1752.0,808.3 1753.9,802.3 1756.9,799.7 1759.2,803.8 1761.4,806.8 1763.4,810.2 1766.0,804.2 1767.5,802.3 1771.2,804.8 1774.2,802.3 1776.5,801.8 1778.4,798.5 1780.2,801.8 1782.5,795.8 1784.7,791.0 1786.5,785.0 1788.0,799.7 1789.5,794.0 1791.5,797.8 1793.0,794.8 1794.8,799.3" fill="none" stroke="#4169e1" stroke-width="2.3" stroke-linejoin="round" stroke-linecap="butt"/>
<path d="M134.0 804H144.0M1873.0 804H1883.0M134.0 882H144.0M1873.0 882H1883.0M134.0 960H144.0M1873.0 960H1883.0M222 964.0V974.0M222 762.0V772.0M416 964.0V974.0M416 762.0V772.0M609 964.0V974.0M609 762.0V772.0M803 964.0V974.0M803 762.0V772.0M997 964.0V974.0M997 762.0V772.0M1190 964.0V974.0M1190 762.0V772.0M1384 964.0V974.0M1384 762.0V772.0M1578 964.0V974.0M1578 762.0V772.0M1771 964.0V974.0M1771 762.0V772.0" stroke="#000" stroke-width="2" fill="none"/>
<rect x="144.0" y="772.0" width="1729.0" height="192.0" fill="none" stroke="#000" stroke-width="2"/>
<text x="74.05" y="812.9" font-size="27.5" textLength="50.22" lengthAdjust="spacingAndGlyphs">300</text>
<text x="1892.25" y="812.9" font-size="27.5" textLength="50.22" lengthAdjust="spacingAndGlyphs">300</text>
<text x="74.29" y="890.9" font-size="27.5" textLength="49.98" lengthAdjust="spacingAndGlyphs">200</text>
<text x="1891.89" y="890.9" font-size="27.5" textLength="49.98" lengthAdjust="spacingAndGlyphs">200</text>
<text x="79.56" y="968.9" font-size="27.5" textLength="44.58" lengthAdjust="spacingAndGlyphs">100</text>
<text x="1891.36" y="968.9" font-size="27.5" textLength="44.58" lengthAdjust="spacingAndGlyphs">100</text>
<text x="142.91" y="755.0" font-size="48" textLength="304.01" lengthAdjust="spacingAndGlyphs">Surowce (CRY)</text>
<text transform="translate(56.8 870.9) rotate(-90)" x="-32.24" y="0" font-size="28" textLength="63.14" lengthAdjust="spacingAndGlyphs">Cena</text>
<clipPath id="c2"><rect x="144.0" y="1089.0" width="1729.0" height="192.0"/></clipPath>
<rect clip-path="url(#c2)" x="270.7" y="1083.0" width="139.0" height="204.0" fill="#808080" fill-opacity="0.2" stroke="#808080" stroke-opacity="0.2" stroke-width="2.5"/>
<rect clip-path="url(#c2)" x="953.8" y="1083.0" width="145.7" height="204.0" fill="#808080" fill-opacity="0.2" stroke="#808080" stroke-opacity="0.2" stroke-width="2.5"/>
<path d="M222 1089.0V1281.0M416 1089.0V1281.0M609 1089.0V1281.0M803 1089.0V1281.0M997 1089.0V1281.0M1190 1089.0V1281.0M1384 1089.0V1281.0M1578 1089.0V1281.0M1771 1089.0V1281.0" stroke="#b0b0b0" stroke-opacity="0.3" stroke-width="2" fill="none"/>
<path d="M144.0 1114H1873.0M144.0 1220H1873.0" stroke="#b0b0b0" stroke-opacity="0.34" stroke-width="2" fill="none"/>
<polyline clip-path="url(#c2)" points="222.0,1272.3 268.9,1268.5 339.3,1263.1 409.7,1258.2 463.6,1253.2 513.3,1248.2 571.3,1243.3 612.7,1241.2 639.7,1239.5 650.0,1237.5 662.4,1238.3 795.0,1238.7 960.7,1239.5 1013.8,1239.5 1015.0,1239.5 1077.1,1238.7 1106.1,1237.9 1151.7,1233.3 1189.0,1227.9 1230.4,1219.6 1263.6,1213.4 1313.3,1201.8 1383.7,1185.3 1450.0,1169.9 1524.6,1151.3 1578.4,1139.7 1644.7,1126.4 1719.3,1111.1 1773.2,1101.6 1795.1,1097.4" fill="none" stroke="#4169e1" stroke-width="2.3" stroke-linejoin="round" stroke-linecap="butt"/>
<path d="M134.0 1114H144.0M1873.0 1114H1883.0M134.0 1220H144.0M1873.0 1220H1883.0M222 1281.0V1291.0M222 1079.0V1089.0M416 1281.0V1291.0M416 1079.0V1089.0M609 1281.0V1291.0M609 1079.0V1089.0M803 1281.0V1291.0M803 1079.0V1089.0M997 1281.0V1291.0M997 1079.0V1089.0M1190 1281.0V1291.0M1190 1079.0V1089.0M1384 1281.0V1291.0M1384 1079.0V1089.0M1578 1281.0V1291.0M1578 1079.0V1089.0M1771 1281.0V1291.0M1771 1079.0V1089.0" stroke="#000" stroke-width="2" fill="none"/>
<rect x="144.0" y="1089.0" width="1729.0" height="192.0" fill="none" stroke="#000" stroke-width="2"/>
<text x="91.31" y="1122.9" font-size="27.5" textLength="32.95" lengthAdjust="spacingAndGlyphs">90</text>
<text x="1892.01" y="1122.9" font-size="27.5" textLength="32.95" lengthAdjust="spacingAndGlyphs">90</text>
<text x="91.21" y="1228.9" font-size="27.5" textLength="33.05" lengthAdjust="spacingAndGlyphs">80</text>
<text x="1892.11" y="1228.9" font-size="27.5" textLength="33.05" lengthAdjust="spacingAndGlyphs">80</text>
<text x="143.29" y="1072.0" font-size="48" textLength="280.43" lengthAdjust="spacingAndGlyphs">Gotówka (BIL)</text>
<text transform="translate(74.3 1187.9) rotate(-90)" x="-32.24" y="0" font-size="28" textLength="63.14" lengthAdjust="spacingAndGlyphs">Cena</text>
<clipPath id="c3"><rect x="144.0" y="1406.0" width="1729.0" height="192.0"/></clipPath>
<rect clip-path="url(#c3)" x="409.7" y="1400.0" width="176.5" height="204.0" fill="#006400" fill-opacity="0.3" stroke="#006400" stroke-opacity="0.3" stroke-width="2.5"/>
<rect clip-path="url(#c3)" x="645.8" y="1400.0" width="49.5" height="204.0" fill="#006400" fill-opacity="0.3" stroke="#006400" stroke-opacity="0.3" stroke-width="2.5"/>
<rect clip-path="url(#c3)" x="1099.5" y="1400.0" width="208.8" height="204.0" fill="#006400" fill-opacity="0.3" stroke="#006400" stroke-opacity="0.3" stroke-width="2.5"/>
<path d="M222 1406.0V1598.0M416 1406.0V1598.0M609 1406.0V1598.0M803 1406.0V1598.0M997 1406.0V1598.0M1190 1406.0V1598.0M1384 1406.0V1598.0M1578 1406.0V1598.0M1771 1406.0V1598.0" stroke="#b0b0b0" stroke-opacity="0.3" stroke-width="2" fill="none"/>
<path d="M144.0 1413H1873.0M144.0 1480H1873.0M144.0 1548H1873.0" stroke="#b0b0b0" stroke-opacity="0.34" stroke-width="2" fill="none"/>
<polyline clip-path="url(#c3)" points="222.8,1545.5 224.8,1543.7 227.8,1545.2 233.8,1544.9 236.8,1546.7 242.8,1546.4 248.8,1544.4 254.0,1541.0 258.6,1540.4 262.3,1539.5 264.6,1540.7 267.6,1538.4 271.3,1537.7 275.1,1535.4 279.6,1536.9 284.1,1536.2 290.1,1538.4 295.3,1540.4 299.1,1537.7 303.6,1537.4 307.4,1538.9 312.6,1536.2 318.6,1537.4 324.6,1535.9 330.6,1535.4 336.6,1533.9 342.7,1534.4 348.7,1533.5 354.7,1535.9 359.9,1534.4 366.7,1533.5 371.2,1534.7 374.2,1532.9 377.9,1532.4 380.2,1530.9 384.7,1532.0 389.2,1531.7 392.2,1532.4 396.7,1530.9 399.7,1528.4 404.2,1527.4 408.0,1524.9 410.2,1523.8 416.2,1522.9 420.0,1524.4 422.3,1521.9 425.3,1523.8 431.3,1521.4 437.3,1520.8 442.5,1519.9 447.0,1524.1 450.8,1521.4 455.3,1521.4 459.8,1520.4 465.8,1521.9 471.8,1520.4 476.3,1520.4 480.1,1523.4 485.3,1519.6 489.8,1520.4 494.3,1518.1 498.8,1514.4 504.5,1512.7 505.0,1512.9 510.3,1512.9 515.5,1510.3 519.3,1510.9 523.8,1507.3 527.5,1508.4 532.8,1505.4 535.8,1502.4 539.5,1506.1 542.5,1502.4 546.3,1504.3 549.8,1507.9 554.6,1506.1 559.8,1504.6 563.3,1502.4 566.6,1503.9 570.3,1504.6 574.8,1503.1 578.6,1503.1 581.3,1505.8 586.1,1504.3 592.1,1502.8 597.4,1502.4 602.6,1503.4 610.1,1503.4 613.1,1505.4 616.4,1507.6 619.1,1507.3 625.1,1503.9 629.7,1502.4 632.7,1504.3 635.7,1502.4 640.2,1496.8 645.4,1490.8 647.7,1499.8 651.0,1499.4 652.9,1491.1 656.7,1490.8 659.7,1489.6 662.4,1485.8 665.7,1484.3 668.7,1482.8 671.7,1484.3 677.0,1485.4 680.0,1480.9 684.5,1483.3 686.7,1482.1 688.2,1476.4 693.5,1480.9 698.0,1479.8 703.2,1477.9 709.2,1477.3 715.3,1477.3 722.8,1474.9 728.8,1476.1 736.3,1477.6 743.8,1476.4 751.3,1474.6 758.8,1473.4 764.8,1471.9 773.1,1469.8 776.1,1471.3 780.6,1470.4 785.8,1471.3 788.8,1473.1 794.5,1471.4 795.0,1471.9 801.0,1470.8 807.0,1470.1 813.0,1469.3 818.3,1469.3 822.8,1470.8 827.3,1473.1 831.0,1472.3 833.3,1475.3 837.8,1476.8 843.1,1474.9 847.6,1474.3 850.9,1476.4 855.1,1475.3 858.8,1473.8 862.6,1474.6 865.6,1474.6 867.4,1477.3 871.6,1477.3 873.8,1481.8 875.8,1483.3 879.1,1479.8 882.1,1481.8 886.6,1481.3 889.6,1479.1 893.4,1480.9 897.1,1482.8 899.4,1479.8 902.4,1480.6 906.1,1479.4 909.1,1475.8 913.6,1475.3 916.6,1476.1 920.4,1478.3 924.9,1476.1 928.7,1476.8 931.7,1477.3 934.7,1480.6 939.2,1481.3 942.9,1480.9 946.7,1482.8 950.4,1487.4 951.9,1492.6 956.4,1497.9 961.0,1500.1 965.5,1501.6 967.7,1506.9 971.5,1511.4 974.5,1515.1 976.7,1519.6 979.4,1513.6 981.2,1516.3 985.0,1513.9 989.5,1514.4 991.0,1521.1 994.7,1523.4 997.7,1525.3 1001.0,1527.9 1003.5,1523.4 1005.3,1524.1 1007.5,1520.8 1010.5,1524.1 1013.1,1526.8 1015.8,1523.4 1018.0,1523.8 1020.3,1525.6 1023.6,1522.3 1026.3,1527.1 1029.0,1527.9 1030.8,1536.2 1033.0,1545.9 1035.0,1548.9 1036.8,1541.9 1039.0,1546.7 1041.3,1553.4 1043.5,1548.9 1046.6,1552.4 1048.5,1563.2 1049.6,1567.7 1051.1,1561.4 1053.6,1566.2 1055.6,1564.4 1057.8,1563.2 1060.1,1566.9 1063.1,1571.5 1065.0,1574.0 1067.6,1568.4 1070.6,1563.5 1074.3,1565.4 1077.3,1566.5 1079.6,1566.2 1081.8,1575.2 1084.1,1583.5 1085.0,1584.2 1086.8,1587.2 1088.3,1570.7 1090.3,1576.0 1092.5,1563.9 1095.5,1568.4 1097.8,1564.7 1099.7,1570.0 1102.3,1564.7 1104.5,1554.2 1107.5,1548.2 1109.0,1545.2 1110.8,1551.9 1112.8,1545.9 1115.5,1541.9 1117.3,1545.2 1119.5,1551.9 1122.5,1557.9 1124.0,1558.4 1126.3,1553.4 1129.3,1551.9 1131.9,1548.5 1133.8,1552.7 1136.8,1551.9 1139.1,1558.7 1140.9,1566.9 1143.6,1563.2 1145.8,1569.2 1147.3,1578.2 1148.8,1574.5 1150.3,1582.0 1152.1,1589.0 1154.1,1579.0 1155.6,1575.2 1157.8,1582.0 1160.8,1575.2 1163.1,1561.7 1166.1,1557.9 1167.3,1560.2 1169.9,1552.7 1171.4,1555.7 1174.4,1548.2 1175.9,1551.9 1178.9,1546.7 1181.1,1546.7 1183.4,1551.2 1186.4,1548.9 1189.4,1549.7 1191.3,1543.7 1192.8,1534.7 1194.6,1531.7 1196.9,1534.4 1199.4,1530.2 1201.4,1533.5 1204.4,1529.4 1206.3,1531.7 1208.1,1527.1 1210.4,1532.4 1212.7,1531.7 1214.9,1536.2 1217.2,1541.9 1219.4,1538.4 1222.4,1539.9 1225.4,1533.9 1227.7,1528.7 1230.7,1525.9 1233.7,1527.4 1236.7,1528.4 1240.4,1527.9 1244.9,1529.9 1247.9,1528.7 1251.7,1524.1 1255.5,1521.1 1259.2,1519.3 1263.0,1522.9 1267.0,1525.3 1271.2,1520.8 1275.0,1519.3 1278.7,1521.1 1283.2,1516.6 1287.0,1515.1 1290.0,1515.9 1293.0,1507.6 1295.3,1505.4 1297.5,1507.6 1301.3,1507.3 1304.3,1508.8 1308.0,1506.1 1310.3,1506.9 1313.3,1509.9 1317.0,1506.9 1321.5,1504.6 1323.8,1499.4 1326.8,1501.3 1330.5,1503.1 1335.1,1502.4 1338.8,1505.4 1343.3,1503.1 1347.1,1507.3 1350.1,1501.6 1353.8,1497.9 1357.6,1501.6 1360.6,1498.3 1364.3,1500.1 1368.8,1495.6 1371.8,1492.6 1374.5,1487.4 1375.0,1487.4 1377.7,1486.3 1381.0,1489.3 1384.8,1490.8 1388.8,1485.8 1392.3,1488.9 1395.3,1488.4 1397.5,1490.8 1400.2,1486.3 1403.5,1489.6 1407.3,1489.9 1409.8,1489.9 1412.5,1487.4 1415.5,1487.4 1418.6,1486.3 1423.1,1488.9 1427.6,1490.4 1430.6,1487.8 1433.9,1487.4 1437.3,1490.4 1440.3,1493.4 1443.3,1491.4 1446.3,1491.1 1451.6,1488.1 1455.3,1488.9 1458.4,1488.1 1460.9,1490.8 1463.6,1487.8 1465.9,1485.4 1468.9,1486.9 1472.6,1486.6 1477.9,1483.6 1482.4,1485.4 1484.6,1484.3 1488.4,1479.4 1491.4,1480.6 1495.1,1478.8 1496.9,1472.3 1498.9,1469.3 1501.2,1470.8 1503.9,1470.1 1506.4,1473.4 1509.4,1471.3 1512.0,1473.8 1514.7,1471.3 1519.2,1467.4 1522.9,1468.3 1525.2,1468.3 1527.4,1465.6 1530.4,1468.3 1533.4,1470.8 1537.2,1472.3 1541.0,1474.6 1544.7,1476.1 1548.5,1471.3 1550.7,1473.1 1554.5,1470.8 1556.7,1467.8 1559.0,1468.3 1560.9,1466.3 1563.9,1468.9 1566.5,1468.9 1570.2,1472.3 1573.2,1470.8 1577.7,1471.6 1581.5,1471.9 1584.5,1473.8 1588.3,1470.1 1591.3,1469.8 1595.8,1467.8 1599.5,1466.8 1600.0,1468.9 1601.8,1465.9 1604.5,1467.4 1606.8,1466.3 1608.7,1464.1 1612.0,1466.8 1615.0,1465.6 1618.0,1463.3 1621.8,1462.3 1624.8,1459.6 1626.3,1455.1 1627.0,1450.3 1629.3,1449.8 1630.8,1446.8 1634.5,1444.5 1637.5,1445.3 1641.3,1443.8 1644.3,1444.5 1646.6,1447.9 1650.3,1449.4 1654.1,1449.1 1656.8,1445.3 1659.8,1447.6 1662.3,1449.1 1665.3,1447.9 1669.1,1448.8 1670.9,1444.8 1673.6,1443.8 1675.1,1440.0 1678.1,1440.8 1682.6,1441.5 1686.4,1439.3 1690.1,1438.8 1694.6,1436.7 1697.6,1435.8 1702.1,1435.8 1705.1,1437.8 1708.1,1437.0 1710.4,1435.5 1715.6,1435.5 1718.6,1434.8 1721.6,1435.5 1724.7,1434.8 1727.7,1432.2 1732.2,1430.7 1735.9,1430.3 1739.7,1428.0 1744.2,1427.7 1748.7,1427.3 1751.7,1424.3 1753.5,1422.3 1756.9,1423.2 1761.4,1424.3 1765.2,1420.8 1768.2,1419.3 1772.0,1418.7 1776.5,1416.8 1781.0,1415.3 1783.5,1414.2" fill="none" stroke="#4169e1" stroke-width="2.3" stroke-linejoin="round" stroke-linecap="butt"/>
<path d="M134.0 1413H144.0M1873.0 1413H1883.0M134.0 1480H144.0M1873.0 1480H1883.0M134.0 1548H144.0M1873.0 1548H1883.0M222 1598.0V1608.0M222 1396.0V1406.0M416 1598.0V1608.0M416 1396.0V1406.0M609 1598.0V1608.0M609 1396.0V1406.0M803 1598.0V1608.0M803 1396.0V1406.0M997 1598.0V1608.0M997 1396.0V1406.0M1190 1598.0V1608.0M1190 1396.0V1406.0M1384 1598.0V1608.0M1384 1396.0V1406.0M1578 1598.0V1608.0M1578 1396.0V1406.0M1771 1598.0V1608.0M1771 1396.0V1406.0" stroke="#000" stroke-width="2" fill="none"/>
<rect x="144.0" y="1406.0" width="1729.0" height="192.0" fill="none" stroke="#000" stroke-width="2"/>
<text x="59.44" y="1421.9" font-size="27.5" textLength="64.80" lengthAdjust="spacingAndGlyphs">2250</text>
<text x="1891.94" y="1421.9" font-size="27.5" textLength="64.80" lengthAdjust="spacingAndGlyphs">2250</text>
<text x="56.98" y="1488.9" font-size="27.5" textLength="67.30" lengthAdjust="spacingAndGlyphs">2000</text>
<text x="1891.88" y="1488.9" font-size="27.5" textLength="67.30" lengthAdjust="spacingAndGlyphs">2000</text>
<text x="65.18" y="1556.9" font-size="27.5" textLength="58.95" lengthAdjust="spacingAndGlyphs">1750</text>
<text x="1891.38" y="1556.9" font-size="27.5" textLength="58.95" lengthAdjust="spacingAndGlyphs">1750</text>
<text x="143.44" y="1389.0" font-size="48" textLength="335.55" lengthAdjust="spacingAndGlyphs">Obligacje (TBSP)</text>
<text transform="translate(39.8 1504.9) rotate(-90)" x="-32.24" y="0" font-size="28" textLength="63.14" lengthAdjust="spacingAndGlyphs">Cena</text>
<clipPath id="c4"><rect x="144.0" y="1723.0" width="1729.0" height="192.0"/></clipPath>
<rect clip-path="url(#c4)" x="586.2" y="1717.0" width="59.6" height="204.0" fill="#90ee90" fill-opacity="0.3" stroke="#90ee90" stroke-opacity="0.3" stroke-width="2.5"/>
<rect clip-path="url(#c4)" x="695.3" y="1717.0" width="129.5" height="204.0" fill="#90ee90" fill-opacity="0.3" stroke="#90ee90" stroke-opacity="0.3" stroke-width="2.5"/>
<rect clip-path="url(#c4)" x="1308.3" y="1717.0" width="484.0" height="204.0" fill="#90ee90" fill-opacity="0.3" stroke="#90ee90" stroke-opacity="0.3" stroke-width="2.5"/>
<path d="M222 1723.0V1915.0M416 1723.0V1915.0M609 1723.0V1915.0M803 1723.0V1915.0M997 1723.0V1915.0M1190 1723.0V1915.0M1384 1723.0V1915.0M1578 1723.0V1915.0M1771 1723.0V1915.0" stroke="#b0b0b0" stroke-opacity="0.3" stroke-width="2" fill="none"/>
<path d="M144.0 1728H1873.0M144.0 1818H1873.0M144.0 1909H1873.0" stroke="#b0b0b0" stroke-opacity="0.34" stroke-width="2" fill="none"/>
<polyline clip-path="url(#c4)" points="222.2,1877.5 224.8,1874.9 228.5,1873.4 232.3,1871.5 235.7,1869.4 238.7,1871.5 240.5,1877.9 242.5,1882.0 245.8,1875.7 248.8,1876.4 251.8,1874.2 253.7,1878.7 258.6,1874.5 263.1,1876.4 265.3,1881.4 267.6,1879.0 270.6,1880.9 274.3,1879.0 278.8,1876.0 281.8,1878.4 286.3,1878.7 291.6,1875.4 296.8,1876.0 300.9,1878.7 304.8,1874.9 308.9,1874.9 312.6,1877.2 316.4,1879.4 319.4,1878.7 322.4,1876.0 326.9,1875.7 330.6,1874.5 335.1,1874.9 338.9,1874.5 341.9,1877.9 345.7,1875.7 349.0,1873.0 352.4,1874.9 355.4,1876.4 358.4,1874.9 361.9,1873.0 365.2,1873.9 368.2,1874.2 371.2,1877.2 372.7,1882.0 374.9,1879.4 377.2,1881.7 379.4,1885.9 381.7,1886.2 384.0,1881.7 386.5,1879.4 389.2,1882.9 391.5,1882.4 394.0,1885.9 396.7,1883.9 400.0,1879.9 402.0,1885.4 405.0,1886.2 408.0,1890.0 411.4,1895.5 413.2,1890.7 416.2,1891.5 418.5,1887.7 421.5,1885.4 424.5,1883.5 428.3,1883.9 432.0,1880.9 434.3,1879.9 437.0,1881.7 440.0,1878.7 444.0,1877.9 447.8,1877.5 450.8,1880.2 453.8,1877.2 457.1,1875.7 459.0,1878.4 462.0,1876.9 465.8,1874.2 470.3,1873.9 475.6,1873.0 480.8,1872.7 483.8,1875.7 486.1,1878.7 488.3,1876.4 492.1,1877.9 495.8,1880.2 498.8,1875.7 502.6,1874.5 504.5,1874.2 505.0,1874.5 508.8,1872.7 512.5,1870.4 516.3,1871.2 520.0,1870.9 523.8,1870.9 527.2,1870.4 529.0,1874.9 530.5,1878.4 532.8,1874.9 535.0,1878.7 537.3,1875.4 540.3,1877.9 543.3,1875.7 545.8,1874.9 547.8,1872.4 551.6,1870.9 556.1,1871.2 559.8,1872.7 561.8,1875.4 564.3,1875.4 566.6,1871.9 571.1,1870.0 574.8,1868.5 578.6,1866.7 583.1,1865.9 586.8,1866.4 590.6,1864.9 593.9,1866.7 597.4,1865.5 601.1,1862.2 604.9,1861.0 608.6,1860.7 612.4,1860.4 615.4,1858.4 618.4,1857.4 621.4,1858.9 623.6,1861.9 625.9,1862.9 628.4,1858.4 631.9,1857.4 635.7,1857.7 637.2,1861.4 638.7,1866.7 640.2,1871.9 642.0,1868.9 643.2,1869.7 644.7,1877.2 646.2,1882.4 647.4,1895.2 648.9,1893.7 650.4,1900.5 652.9,1905.7 654.0,1890.7 655.9,1890.0 657.4,1896.0 658.9,1895.2 661.2,1885.4 663.4,1883.2 665.7,1884.4 667.9,1887.0 670.2,1882.4 672.5,1878.7 674.0,1883.5 677.0,1880.2 679.2,1882.4 682.2,1878.7 685.2,1877.2 687.5,1874.2 690.0,1871.9 692.0,1866.7 693.5,1865.2 695.4,1873.9 698.0,1869.7 701.0,1869.7 703.2,1872.7 706.2,1868.2 709.2,1865.9 713.0,1865.9 716.8,1862.9 720.5,1863.7 724.3,1860.7 728.0,1858.4 731.8,1857.7 735.5,1855.4 739.0,1853.2 741.5,1859.9 743.8,1860.4 746.0,1857.4 748.3,1859.9 750.5,1863.7 753.5,1859.9 757.3,1857.4 760.3,1852.9 763.3,1855.4 766.6,1855.4 768.6,1861.4 770.5,1862.2 773.1,1852.4 775.3,1849.9 779.1,1847.5 782.8,1846.0 786.6,1844.9 790.3,1841.9 793.3,1841.1 794.5,1839.3 795.0,1839.6 798.0,1840.8 801.8,1838.9 804.8,1838.9 807.0,1833.6 810.0,1834.4 813.8,1832.1 816.0,1832.9 818.3,1838.9 821.3,1832.1 824.3,1828.8 827.3,1827.6 831.0,1829.9 833.3,1833.6 834.8,1831.4 836.8,1835.9 840.1,1829.1 843.1,1827.9 846.8,1832.9 849.1,1829.9 852.1,1825.4 855.1,1823.9 858.8,1821.9 860.3,1824.3 863.3,1821.3 867.1,1822.8 870.1,1820.1 872.8,1826.9 874.6,1823.1 877.6,1822.8 881.4,1819.8 885.1,1818.3 889.6,1817.1 892.6,1821.9 895.9,1817.4 900.1,1815.9 903.1,1817.9 905.4,1815.9 908.8,1821.3 910.6,1816.8 915.1,1815.9 918.9,1814.9 922.7,1814.1 925.4,1818.3 928.7,1813.8 933.2,1810.8 936.9,1812.6 939.9,1812.6 942.5,1818.3 944.4,1814.4 946.7,1818.6 949.4,1820.9 952.7,1818.3 954.9,1813.8 957.9,1811.4 962.5,1810.8 967.0,1807.4 970.0,1808.4 973.0,1807.4 976.7,1810.4 978.5,1814.1 980.5,1817.9 983.9,1810.8 987.2,1812.6 990.2,1815.9 992.5,1810.4 994.7,1808.1 998.5,1807.8 1000.7,1811.1 1003.0,1809.6 1006.0,1814.9 1008.0,1820.1 1010.5,1823.9 1012.8,1817.1 1015.0,1817.1 1017.3,1814.1 1019.5,1819.4 1021.5,1816.8 1024.0,1823.1 1025.5,1825.4 1027.5,1822.4 1029.0,1825.4 1031.1,1832.1 1033.0,1828.4 1035.0,1832.9 1036.8,1821.9 1039.8,1819.4 1042.8,1816.4 1044.3,1818.6 1046.1,1816.4 1048.8,1821.3 1051.8,1823.9 1054.8,1823.1 1057.5,1829.1 1059.3,1833.3 1062.0,1829.1 1063.8,1837.4 1066.1,1842.6 1068.6,1837.4 1070.6,1840.4 1072.8,1838.1 1075.1,1832.1 1078.1,1831.8 1080.3,1832.9 1082.1,1842.6 1084.5,1849.0 1085.0,1849.4 1087.3,1847.9 1089.5,1842.6 1091.8,1845.7 1094.8,1846.0 1097.0,1844.4 1099.7,1848.7 1102.3,1843.4 1104.2,1840.8 1106.0,1842.6 1107.5,1836.6 1110.5,1836.3 1112.8,1835.4 1115.0,1830.6 1117.7,1830.6 1120.3,1836.3 1121.8,1834.4 1124.0,1840.4 1127.1,1844.9 1129.3,1844.1 1131.3,1837.4 1132.8,1844.1 1135.3,1845.7 1137.3,1853.2 1139.4,1855.4 1141.3,1856.9 1143.1,1849.4 1145.1,1854.7 1147.8,1858.0 1150.3,1854.4 1152.6,1851.7 1155.6,1847.9 1158.6,1851.7 1160.4,1848.7 1162.3,1849.4 1163.1,1839.9 1166.1,1840.8 1169.1,1840.4 1171.4,1838.1 1173.9,1835.9 1176.6,1839.9 1179.9,1837.4 1181.9,1843.4 1184.9,1843.8 1187.9,1844.4 1190.1,1843.4 1192.4,1841.9 1195.4,1835.9 1197.6,1833.9 1199.9,1835.9 1202.9,1832.9 1205.1,1831.4 1207.4,1828.4 1209.7,1831.4 1212.7,1830.6 1215.7,1832.9 1219.4,1836.6 1221.7,1835.9 1223.9,1832.9 1226.2,1839.6 1228.4,1840.8 1232.2,1838.9 1235.2,1837.4 1237.9,1832.1 1241.2,1832.4 1244.9,1829.9 1248.7,1830.6 1251.0,1833.6 1253.2,1830.3 1255.5,1832.9 1258.5,1830.9 1262.2,1830.6 1264.5,1829.1 1266.4,1832.4 1269.0,1831.4 1271.2,1827.6 1274.2,1826.1 1278.0,1821.3 1280.2,1824.6 1282.9,1827.9 1286.2,1823.4 1288.9,1825.8 1291.5,1823.9 1293.0,1820.1 1296.8,1819.4 1301.3,1817.1 1303.5,1820.9 1307.3,1821.9 1311.0,1826.4 1314.8,1825.8 1318.5,1821.6 1322.3,1823.9 1326.0,1822.8 1329.0,1826.9 1332.8,1831.4 1336.1,1833.3 1339.6,1828.8 1343.0,1829.1 1345.6,1834.4 1349.0,1837.8 1352.3,1828.8 1356.1,1827.9 1359.1,1823.9 1362.8,1821.6 1367.3,1820.4 1371.1,1819.8 1374.1,1814.9 1375.0,1814.9 1377.3,1815.6 1381.8,1812.3 1385.5,1815.9 1389.3,1813.8 1392.3,1816.8 1395.3,1813.8 1399.0,1810.8 1402.0,1811.1 1405.0,1807.8 1407.3,1809.6 1411.0,1804.4 1414.0,1805.1 1417.8,1802.1 1420.1,1802.8 1422.3,1800.3 1424.6,1802.1 1426.8,1799.1 1430.6,1798.8 1434.3,1800.6 1436.6,1799.8 1438.8,1804.4 1441.8,1809.3 1444.8,1804.8 1447.1,1803.6 1448.6,1806.9 1450.8,1801.3 1453.8,1798.3 1456.1,1795.3 1459.1,1795.8 1462.9,1798.8 1466.6,1796.4 1470.4,1794.9 1473.4,1793.8 1476.4,1795.3 1480.1,1794.6 1482.4,1791.3 1485.4,1789.3 1487.9,1787.1 1490.3,1791.6 1492.1,1790.8 1493.6,1795.3 1495.1,1791.6 1496.9,1797.6 1498.9,1803.9 1501.2,1799.1 1504.2,1790.8 1507.2,1787.4 1510.9,1786.3 1513.2,1788.6 1515.9,1794.9 1519.2,1788.6 1522.9,1784.8 1526.7,1781.8 1530.4,1783.8 1533.4,1782.9 1536.4,1780.8 1539.4,1782.3 1541.7,1784.4 1544.0,1783.3 1545.5,1787.1 1547.7,1786.3 1548.9,1778.8 1551.5,1779.9 1553.0,1784.4 1556.0,1781.1 1559.7,1778.8 1564.2,1776.3 1568.0,1776.9 1569.9,1778.8 1570.7,1785.9 1573.2,1784.1 1574.7,1781.8 1577.0,1784.8 1578.5,1786.8 1580.7,1784.1 1583.0,1789.3 1585.3,1785.6 1588.3,1780.3 1590.5,1778.4 1592.8,1779.9 1595.0,1781.1 1597.3,1777.8 1600.0,1776.9 1603.3,1774.8 1606.8,1779.9 1609.8,1782.3 1612.0,1782.6 1614.3,1788.6 1615.8,1790.8 1617.7,1785.3 1620.3,1784.8 1622.2,1782.9 1624.0,1788.6 1626.3,1787.8 1627.3,1806.6 1629.3,1812.3 1630.5,1796.1 1633.0,1795.8 1634.8,1797.6 1636.6,1801.3 1638.7,1790.8 1641.8,1785.6 1642.8,1783.3 1645.5,1784.1 1647.8,1778.8 1650.8,1774.8 1652.9,1778.1 1655.9,1776.3 1659.8,1772.8 1663.4,1770.3 1666.1,1772.4 1668.3,1774.8 1671.3,1768.8 1675.1,1764.9 1678.1,1765.8 1681.8,1764.9 1685.9,1760.3 1688.6,1762.3 1690.4,1766.4 1693.9,1761.8 1697.3,1757.3 1700.6,1758.8 1703.6,1756.3 1706.9,1758.5 1710.4,1754.3 1713.4,1750.7 1717.9,1749.5 1720.1,1752.5 1723.9,1747.7 1725.9,1747.3 1727.7,1754.3 1730.7,1750.3 1733.7,1747.3 1736.7,1743.2 1739.7,1745.8 1741.9,1748.0 1744.5,1743.8 1746.9,1750.3 1749.0,1755.2 1751.7,1747.3 1753.9,1744.3 1756.9,1743.5 1759.9,1741.7 1762.9,1746.2 1765.2,1744.3 1767.9,1741.3 1771.2,1743.5 1774.5,1738.7 1777.2,1736.3 1779.5,1737.8 1781.7,1740.8 1784.4,1734.2 1786.2,1733.0 1788.5,1735.3 1790.0,1739.8 1791.5,1733.8 1793.0,1731.5 1794.5,1735.3" fill="none" stroke="#4169e1" stroke-width="2.3" stroke-linejoin="round" stroke-linecap="butt"/>
<path d="M134.0 1728H144.0M1873.0 1728H1883.0M134.0 1818H144.0M1873.0 1818H1883.0M134.0 1909H144.0M1873.0 1909H1883.0M222 1915.0V1925.0M222 1713.0V1723.0M416 1915.0V1925.0M416 1713.0V1723.0M609 1915.0V1925.0M609 1713.0V1723.0M803 1915.0V1925.0M803 1713.0V1723.0M997 1915.0V1925.0M997 1713.0V1723.0M1190 1915.0V1925.0M1190 1713.0V1723.0M1384 1915.0V1925.0M1384 1713.0V1723.0M1578 1915.0V1925.0M1578 1713.0V1723.0M1771 1915.0V1925.0M1771 1713.0V1723.0" stroke="#000" stroke-width="2" fill="none"/>
<rect x="144.0" y="1723.0" width="1729.0" height="192.0" fill="none" stroke="#000" stroke-width="2"/>
<text x="81.35" y="1736.9" font-size="27.5" textLength="42.75" lengthAdjust="spacingAndGlyphs">150</text>
<text x="1891.45" y="1736.9" font-size="27.5" textLength="42.75" lengthAdjust="spacingAndGlyphs">150</text>
<text x="79.56" y="1826.9" font-size="27.5" textLength="44.58" lengthAdjust="spacingAndGlyphs">100</text>
<text x="1891.36" y="1826.9" font-size="27.5" textLength="44.58" lengthAdjust="spacingAndGlyphs">100</text>
<text x="92.35" y="1917.9" font-size="27.5" textLength="31.87" lengthAdjust="spacingAndGlyphs">50</text>
<text x="1892.25" y="1917.9" font-size="27.5" textLength="31.87" lengthAdjust="spacingAndGlyphs">50</text>
<text x="192.00" y="1954.2" font-size="27.5" textLength="59.82" lengthAdjust="spacingAndGlyphs">2018</text>
<text x="385.79" y="1954.2" font-size="27.5" textLength="60.35" lengthAdjust="spacingAndGlyphs">2019</text>
<text x="575.44" y="1954.2" font-size="27.5" textLength="66.78" lengthAdjust="spacingAndGlyphs">2020</text>
<text x="772.99" y="1954.2" font-size="27.5" textLength="59.97" lengthAdjust="spacingAndGlyphs">2021</text>
<text x="964.11" y="1954.2" font-size="27.5" textLength="65.77" lengthAdjust="spacingAndGlyphs">2022</text>
<text x="1156.86" y="1954.2" font-size="27.5" textLength="66.10" lengthAdjust="spacingAndGlyphs">2023</text>
<text x="1350.39" y="1954.2" font-size="27.5" textLength="66.58" lengthAdjust="spacingAndGlyphs">2024</text>
<text x="1545.12" y="1954.2" font-size="27.5" textLength="65.52" lengthAdjust="spacingAndGlyphs">2025</text>
<text x="1737.65" y="1954.2" font-size="27.5" textLength="66.52" lengthAdjust="spacingAndGlyphs">2026</text>
<text x="144.01" y="1706.0" font-size="48" textLength="206.23" lengthAdjust="spacingAndGlyphs">Akcje (VT)</text>
<text transform="translate(62.9 1821.9) rotate(-90)" x="-32.24" y="0" font-size="28" textLength="63.14" lengthAdjust="spacingAndGlyphs">Cena</text>
<text x="797.06" y="804.3" font-size="27.5" font-weight="bold" textLength="185.68" lengthAdjust="spacingAndGlyphs">Okres wyboru</text>
<text x="821.76" y="834.4" font-size="27.5" font-weight="bold">surowców</text>
<text x="932.66" y="1121.5" font-size="27.5" font-weight="bold" textLength="186.08" lengthAdjust="spacingAndGlyphs">Okres wyboru</text>
<text x="973.87" y="1151.4" font-size="27.5" font-weight="bold">gotówki</text>
<text x="1109.66" y="1438.3" font-size="27.5" font-weight="bold" textLength="185.88" lengthAdjust="spacingAndGlyphs">Okres wyboru</text>
<text x="1146.96" y="1468.4" font-size="27.5" font-weight="bold">obligacji</text>
<text x="1434.76" y="1869.5" font-size="27.5" font-weight="bold" textLength="255.01" lengthAdjust="spacingAndGlyphs">Okres wyboru akcji</text>
<text x="633.05" y="1696.4" font-size="34.5" textLength="721.98" lengthAdjust="spacingAndGlyphs">Źródła danych: Stooq.pl, F-trust.pl. Opracowanie:</text>
<text x="1366.52" y="1696.5" font-size="33" textLength="447.72" lengthAdjust="spacingAndGlyphs" fill="url(#lg)">InwestowanieAlgorytmiczne.pl</text>
</svg></body></html>
